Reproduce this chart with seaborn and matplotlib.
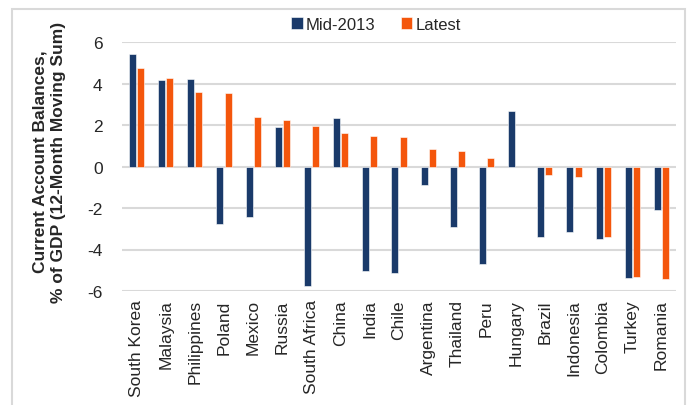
import numpy as np
import pandas as pd
import matplotlib
matplotlib.use("Agg")
import matplotlib.pyplot as plt
from matplotlib.patches import Rectangle
import seaborn as sns

countries = ["South Korea", "Malaysia", "Philippines", "Poland", "Mexico", "Russia",
             "South Africa", "China", "India", "Chile", "Argentina", "Thailand", "Peru",
             "Hungary", "Brazil", "Indonesia", "Colombia", "Turkey", "Romania"]
mid_2013 = [5.40, 4.15, 4.21, -2.77, -2.44, 1.90, -5.76, 2.32, -5.05, -5.15,
            -0.90, -2.90, -4.71, 2.66, -3.42, -3.18, -3.48, -5.35, -2.11]
latest = [4.76, 4.27, 3.58, 3.56, 2.39, 2.24, 1.94, 1.61, 1.45, 1.40,
          0.85, 0.77, 0.42, np.nan, -0.42, -0.50, -3.42, -5.34, -5.40]
series_names = ["Mid-2013", "Latest"]
y_ticks = [-6, -4, -2, 0, 2, 4, 6]
y_label = "Current Account Balances,\n% of GDP (12-Month Moving Sum)"

df = pd.DataFrame({
    "Country": countries * 2,
    "Value": mid_2013 + latest,
    "Series": [series_names[0]] * len(countries) + [series_names[1]] * len(countries),
})

sns.set_theme(style="white")
plt.rcParams["font.family"] = ["Liberation Sans", "DejaVu Sans"]

fig = plt.figure(figsize=(6.88, 4.06), dpi=100)
ax = fig.add_axes([122 / 688, 1 - 292 / 406, (676 - 122) / 688, (292 - 43) / 406])

palette = {"Mid-2013": "#1A3A6A", "Latest": "#F4560C"}
sns.barplot(data=df, x="Country", y="Value", hue="Series", order=countries,
            hue_order=series_names, palette=palette, width=0.56, gap=0.14,
            edgecolor="#FFFFFF", linewidth=0.4, saturation=1, ax=ax, legend=True, zorder=3)

ax.set_ylim(-6, 6)
ax.set_yticks(y_ticks)
ax.set_yticklabels([str(t) for t in y_ticks], fontsize=12.5)
ax.set_xlim(-0.5, len(countries) - 0.5)
ax.grid(axis="y", color="#D9D9D9", linewidth=1.5, zorder=0)
ax.set_axisbelow(True)
for s in ax.spines.values():
    s.set_visible(False)
ax.tick_params(axis="x", labelrotation=90, labelsize=12.5, length=0, pad=6)
ax.tick_params(axis="y", length=0, pad=14)
ax.set_xlabel("")
ax.set_ylabel(y_label, fontsize=12.5, fontweight="bold", linespacing=1.3)
ax.yaxis.set_label_coords((66 - 122) / 554, (292 - 162) / 249)

handles, labels = ax.get_legend_handles_labels()
ax.legend_.remove()
fig.legend(handles, labels, loc="center", bbox_to_anchor=(376 / 688, 1 - 25 / 406),
           ncol=2, frameon=False, fontsize=12, handlelength=0.7, handleheight=0.7,
           handletextpad=0.2, columnspacing=1.5)

fig.patches.append(Rectangle((12 / 688, -0.1), (685 - 12) / 688, 1.1 - 10 / 406,
                             transform=fig.transFigure, fill=False,
                             edgecolor="#D9D9D9", linewidth=1.5))

fig.savefig("out.png", dpi=100)
